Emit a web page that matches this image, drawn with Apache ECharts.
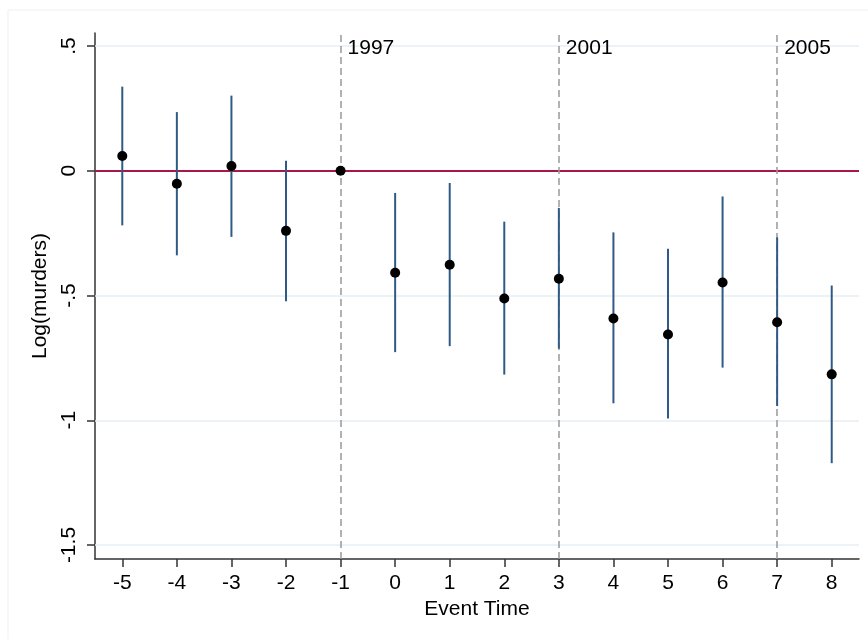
<!DOCTYPE html>
<html>
<head>
<meta charset="utf-8">
<script src="https://cdn.jsdelivr.net/npm/echarts@6/dist/echarts.min.js"></script>
<style>
html,body{margin:0;padding:0;background:#fff;}
#chart{width:868px;height:639px;}
</style>
</head>
<body>
<div id="chart"></div>
<script>
// ---- data ----
const eventTime = [-5, -4, -3, -2, -1, 0, 1, 2, 3, 4, 5, 6, 7, 8];
const estimate  = [0.059, -0.052, 0.019, -0.241, 0, -0.409, -0.377, -0.512, -0.433, -0.592, -0.656, -0.448, -0.607, -0.816];
const ciUpper   = [0.337, 0.235, 0.301, 0.040, null, -0.089, -0.049, -0.204, -0.149, -0.247, -0.313, -0.103, -0.267, -0.460];
const ciLower   = [-0.219, -0.339, -0.265, -0.523, null, -0.727, -0.703, -0.817, -0.713, -0.932, -0.993, -0.789, -0.943, -1.172];
const xTicks = [-5, -4, -3, -2, -1, 0, 1, 2, 3, 4, 5, 6, 7, 8];
const yTicks = [-1.5, -1, -0.5, 0, 0.5];
const yTickLabels = ['-1.5', '-1', '-.5', '0', '.5'];
const eventLines = [-1, 3, 7];
const eventLabels = ['1997', '2001', '2005'];

const FONT = '"Liberation Sans", Arial, Helvetica, sans-serif';
const FS = 21;
const chart = echarts.init(document.getElementById('chart'), null, {renderer: 'canvas'});

const points = eventTime.map((x, i) => [x, estimate[i]]);
const bars = eventTime.map((x, i) => [x, ciLower[i], ciUpper[i]]).filter(d => d[1] !== null);
const labelPts = eventLines.map((x, i) => ({value: [x, 0.5], name: eventLabels[i]}));

const option = {
  animation: false,
  backgroundColor: '#fff',
  graphic: [{
    type: 'rect', silent: true, z: -10,
    shape: {x: 8, y: 10, width: 880, height: 660},
    style: {fill: 'none', stroke: '#efefef', lineWidth: 1}
  }],
  grid: {left: 95, right: 9, top: 33, bottom: 80, containLabel: false},
  xAxis: {
    type: 'value', min: -5.5, max: 8.5,
    name: 'Event Time', nameLocation: 'middle', nameGap: 35,
    nameTextStyle: {fontFamily: FONT, fontSize: FS, color: '#000'},
    axisLine: {show: true, onZero: false, lineStyle: {color: '#333', width: 1.5}},
    axisTick: {show: true, length: 8, lineStyle: {color: '#333', width: 1.5}, customValues: xTicks},
    axisLabel: {customValues: xTicks, fontFamily: FONT, fontSize: FS, color: '#000', margin: 14},
    splitLine: {show: false}
  },
  yAxis: {
    type: 'value', min: -1.556, max: 0.552,
    name: 'Log(murders)', nameLocation: 'middle', nameGap: 34, nameRotate: 90,
    nameTextStyle: {fontFamily: FONT, fontSize: FS, color: '#000'},
    axisLine: {show: true, onZero: false, lineStyle: {color: '#333', width: 1.5}},
    axisTick: {show: true, length: 8, lineStyle: {color: '#333', width: 1.5}, customValues: yTicks},
    axisLabel: {customValues: yTicks, rotate: 90, fontFamily: FONT, fontSize: FS, color: '#000', margin: 15,
      formatter: v => { const i = yTicks.findIndex(t => Math.abs(t - v) < 1e-9); return i >= 0 ? yTickLabels[i] : ''; }},
    splitLine: {show: false}
  },
  series: [
    {
      type: 'line', data: [], z: 1, silent: true,
      markLine: {
        silent: true, symbol: 'none', animation: false, z: 1,
        label: {show: false},
        lineStyle: {color: '#e6eef2', width: 1.5, type: 'solid'},
        data: yTicks.map(v => ({yAxis: v}))
      }
    },
    {
      type: 'line', data: [], z: 2, silent: true,
      markLine: {
        silent: true, symbol: 'none', animation: false, z: 2,
        label: {show: false},
        lineStyle: {color: '#a8174a', width: 2, type: 'solid'},
        data: [{yAxis: 0}]
      }
    },
    {
      type: 'line', data: [], z: 3, silent: true,
      markLine: {
        silent: true, symbol: 'none', animation: false, z: 3,
        label: {show: false},
        lineStyle: {color: '#999', width: 1.5, type: [7, 4]},
        data: eventLines.map(v => ({xAxis: v}))
      }
    },
    {
      type: 'custom', z: 10, silent: true,
      data: bars,
      renderItem: (params, api) => {
        const p1 = api.coord([api.value(0), api.value(1)]);
        const p2 = api.coord([api.value(0), api.value(2)]);
        return {type: 'line', shape: {x1: p1[0], y1: p1[1], x2: p2[0], y2: p2[1]},
                style: {stroke: '#2f5a86', lineWidth: 2}};
      }
    },
    {
      type: 'scatter', z: 11, silent: true,
      data: points, symbol: 'circle', symbolSize: 10,
      itemStyle: {color: '#000', opacity: 1}
    },
    {
      type: 'scatter', z: 11, silent: true,
      data: labelPts, symbolSize: 0,
      itemStyle: {opacity: 1},
      label: {show: true, position: 'right', distance: 7, offset: [0, 2], formatter: p => p.name,
              fontFamily: FONT, fontSize: FS, color: '#000'}
    }
  ]
};
chart.setOption(option);
</script>
</body>
</html>
